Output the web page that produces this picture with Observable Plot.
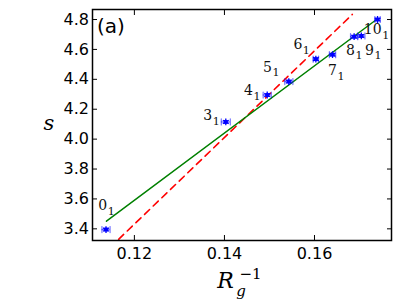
<!DOCTYPE html>
<html>
<head>
<meta charset="utf-8">
<script src="https://cdn.jsdelivr.net/npm/d3@7"></script>
<script src="https://cdn.jsdelivr.net/npm/@observablehq/plot@0.6"></script>
<style>
  html, body { margin: 0; padding: 0; background: white; }
</style>
</head>
<body>
<div id="chart"></div>
<script>
// ---- data ----
const knots  = ["0", "3", "4", "5", "6", "7", "8", "9", "10"];
const rgInv  = [0.1137, 0.1403, 0.1495, 0.1543, 0.1603, 0.1640, 0.1688, 0.1704, 0.1740];
const sVal   = [3.395, 4.115, 4.295, 4.385, 4.535, 4.565, 4.685, 4.690, 4.800];
const xErr   = [0.0009, 0.0010, 0.0009, 0.0009, 0.0006, 0.0007, 0.0008, 0.0008, 0.0006];
const sErr   = [0.012, 0.012, 0.012, 0.012, 0.012, 0.012, 0.012, 0.012, 0.012];
const labelX = [0.11397, 0.13730, 0.14632, 0.15054, 0.15730, 0.16499, 0.16899, 0.17321, 0.17492];
const labelY = [3.556, 4.158, 4.325, 4.481, 4.633, 4.459, 4.593, 4.593, 4.731];
const fitX   = [0.1138, 0.1740];
const fitY   = [3.451, 4.805];
const refX   = [0.1165, 0.1684];
const refY   = [3.330, 4.834];
const xTicks = [0.12, 0.14, 0.16];
const yTicks = [3.4, 3.6, 3.8, 4.0, 4.2, 4.4, 4.6, 4.8];
const xDomain = [0.1107, 0.1771];
const yDomain = [3.322, 4.867];

const pts = knots.map((k, i) => ({
  k, x: rgInv[i], y: sVal[i], ex: xErr[i], ey: sErr[i], lx: labelX[i], ly: labelY[i]
}));
const fit = fitX.map((x, i) => ({x, y: fitY[i]}));
const ref = refX.map((x, i) => ({x, y: refY[i]}));

const blue = "#0000ff";
const capShape = {draw(c, l) { c.moveTo(0, 0); c.lineTo(0, -l); }};

const chart = Plot.plot({
  width: 399,
  height: 299,
  marginLeft: 92,
  marginRight: 8,
  marginTop: 9,
  marginBottom: 59,
  style: {fontFamily: "DejaVu Sans", fontSize: "16px", background: "white", color: "black"},
  x: {domain: xDomain},
  y: {domain: yDomain},
  marks: [
    Plot.axisX(xTicks, {anchor: "bottom", tickSize: -5, tickPadding: 12.5, tickFormat: d3.format(".2f"), label: null, fontSize: 16}),
    Plot.axisX(xTicks, {anchor: "top", tickSize: -5, tickFormat: () => "", label: null}),
    Plot.axisY(yTicks, {anchor: "left", tickSize: -5, tickPadding: 8.5, tickFormat: d3.format(".1f"), label: null, fontSize: 16}),
    Plot.axisY(yTicks, {anchor: "right", tickSize: -5, tickFormat: () => "", label: null}),
    Plot.line(ref, {x: "x", y: "y", stroke: "#ff0000", strokeWidth: 1.6, strokeDasharray: "7,5"}),
    Plot.line(fit, {x: "x", y: "y", stroke: "#008000", strokeWidth: 1.5}),
    // error bars
    Plot.ruleY(pts, {y: "y", x1: d => d.x - d.ex, x2: d => d.x + d.ex, stroke: blue, strokeOpacity: 0.55, strokeWidth: 1.2}),
    Plot.ruleX(pts, {x: "x", y1: d => d.y - d.ey, y2: d => d.y + d.ey, stroke: blue, strokeOpacity: 0.55, strokeWidth: 1.2}),
    Plot.vector(pts, {x: d => d.x - d.ex, y: "y", length: 6, rotate: 0, anchor: "middle",
      shape: capShape, stroke: blue, strokeOpacity: 0.55, strokeWidth: 1.2}),
    Plot.vector(pts, {x: d => d.x + d.ex, y: "y", length: 6, rotate: 0, anchor: "middle",
      shape: capShape, stroke: blue, strokeOpacity: 0.55, strokeWidth: 1.2}),
    Plot.dot(pts, {x: "x", y: "y", symbol: "square", r: 2.2, fill: blue}),
    Plot.dot(pts, {x: "x", y: "y", symbol: "asterisk", r: 3.2, stroke: blue, strokeWidth: 1.3}),
    // knot labels
    Plot.text(pts, {x: "lx", y: "ly", text: "k", textAnchor: "end", lineAnchor: "middle",
      fontFamily: "DejaVu Serif", fontSize: 14, fill: "#111"}),
    Plot.text(pts, {x: "lx", y: "ly", text: () => "1", textAnchor: "start", lineAnchor: "middle",
      dx: 0.5, dy: 5.5, fontFamily: "DejaVu Serif", fontSize: 11, fill: "#111"}),
    Plot.frame({stroke: "black", strokeWidth: 1.5}),
    // panel tag
    Plot.text(["(a)"], {frameAnchor: "top-left", dx: 4.5, dy: 23.4, textAnchor: "start", lineAnchor: "bottom",
      fontFamily: "DejaVu Sans", fontSize: 20}),
    // y label
    Plot.text(["s"], {frameAnchor: "left", dx: 48.3 - 92, dy: 129 - 124.5, textAnchor: "middle", lineAnchor: "bottom",
      fontFamily: "DejaVu Serif", fontStyle: "italic", fontSize: 21}),
    // x label R_g^{-1}
    Plot.text(["R"], {frameAnchor: "bottom-left", dx: 216.7 - 92, dy: 287.3 - 240, textAnchor: "start", lineAnchor: "bottom",
      fontFamily: "DejaVu Serif", fontStyle: "italic", fontSize: 22}),
    Plot.text(["g"], {frameAnchor: "bottom-left", dx: 235.7 - 92, dy: 295.5 - 240, textAnchor: "start", lineAnchor: "bottom",
      fontFamily: "DejaVu Serif", fontStyle: "italic", fontSize: 15}),
    Plot.text(["\u22121"], {frameAnchor: "bottom-left", dx: 239 - 92, dy: 278.3 - 240, textAnchor: "start", lineAnchor: "bottom",
      fontFamily: "DejaVu Serif", fontSize: 15})
  ]
});
document.getElementById("chart").appendChild(chart);
</script>
</body>
</html>
